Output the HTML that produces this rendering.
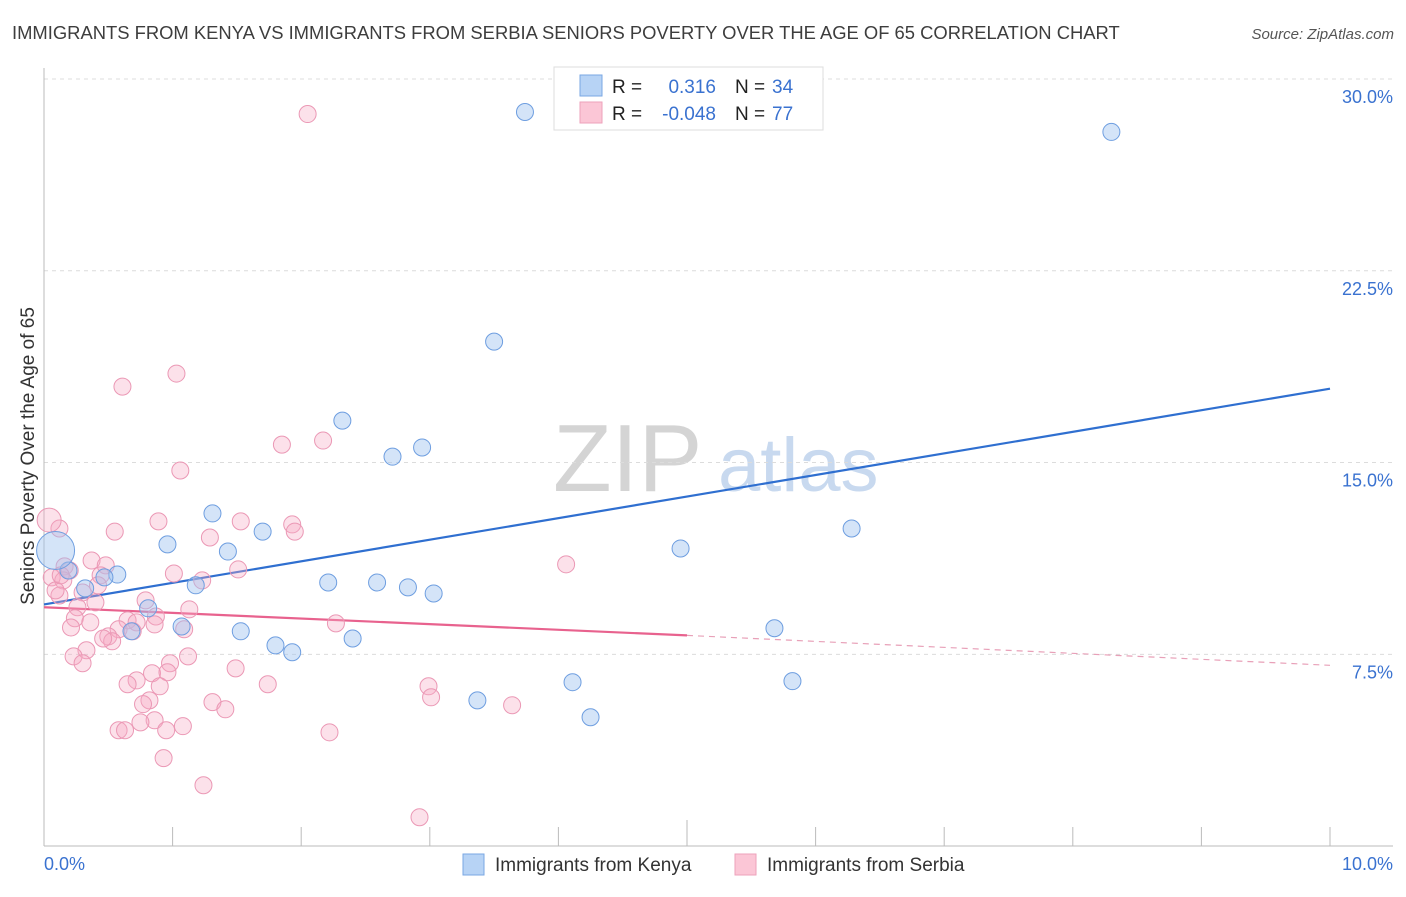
<!DOCTYPE html>
<html><head><meta charset="utf-8"><style>
body{margin:0;background:#fff;font-family:"Liberation Sans",sans-serif;}
svg text{font-family:"Liberation Sans",sans-serif;}
</style></head><body>
<svg id="chart" width="1406" height="892" xmlns="http://www.w3.org/2000/svg">
<text x="12" y="39" font-size="18.4" fill="#3d3d3d">IMMIGRANTS FROM KENYA VS IMMIGRANTS FROM SERBIA SENIORS POVERTY OVER THE AGE OF 65 CORRELATION CHART</text>
<text x="1394" y="39" font-size="15" fill="#555" font-style="italic" text-anchor="end">Source: ZipAtlas.com</text>
<g>
<text x="553" y="491" font-size="96" fill="#d4d4d4" font-family="Liberation Serif">ZIP</text>
<text x="718" y="491" font-size="76" fill="#c8d9ef">atlas</text>
</g>
<g id="grid"></g>
<g id="axes"></g>
<g id="trends"></g>
<g id="points"></g>
<text transform="translate(34,456) rotate(-90)" font-size="19" fill="#333" text-anchor="middle">Seniors Poverty Over the Age of 65</text>
<g>
<rect x="554" y="67" width="269" height="63" fill="#fff" stroke="#ddd"/>
<rect x="580" y="75" width="22" height="21" fill="#b7d3f5" stroke="#7aa7e3"/>
<rect x="580" y="102" width="22" height="21" fill="#fbc6d6" stroke="#eea2bb"/>
<text x="612" y="93" font-size="19" fill="#222">R =</text>
<text x="716" y="93" font-size="19" fill="#3a72d0" text-anchor="end">0.316</text>
<text x="735" y="93" font-size="19" fill="#222">N =</text>
<text x="772" y="93" font-size="19" fill="#3a72d0">34</text>
<text x="612" y="120" font-size="19" fill="#222">R =</text>
<text x="716" y="120" font-size="19" fill="#3a72d0" text-anchor="end">-0.048</text>
<text x="735" y="120" font-size="19" fill="#222">N =</text>
<text x="772" y="120" font-size="19" fill="#3a72d0">77</text>
</g>
<g>
<rect x="463" y="854" width="21" height="21" fill="#b7d3f5" stroke="#7aa7e3"/>
<text x="495" y="871" font-size="19" fill="#333">Immigrants from Kenya</text>
<rect x="735" y="854" width="21" height="21" fill="#fbc6d6" stroke="#eea2bb"/>
<text x="767" y="871" font-size="19" fill="#333">Immigrants from Serbia</text>
</g>
</svg>
<script>
const yTicks=[7.5,15.0,22.5,30.0];
const yTickLabels=["7.5%","15.0%","22.5%","30.0%"];
const xTickLabels=["0.0%","10.0%"];
const kenyaX=[3.74,8.30,3.50,2.32,2.71,2.94,1.31,1.70,6.28,4.95,0.96,1.43,0.19,0.57,0.47,2.21,2.59,2.83,3.03,1.18,0.32,0.81,1.07,0.68,1.53,1.80,1.93,2.40,3.37,4.11,4.25,5.68,5.82,0.09];
const kenyaY=[28.71,27.93,19.73,16.64,15.23,15.59,13.01,12.30,12.42,11.64,11.80,11.52,10.78,10.62,10.51,10.31,10.31,10.12,9.88,10.20,10.08,9.30,8.59,8.40,8.40,7.85,7.58,8.12,5.70,6.41,5.04,8.52,6.45,11.56];
const serbiaX=[2.05,0.61,1.03,1.06,1.85,2.17,0.12,0.55,0.89,1.53,1.93,1.95,1.29,4.06,0.37,0.48,0.16,0.20,0.44,0.06,0.15,1.01,1.23,1.51,0.30,0.12,0.09,0.42,0.79,0.26,1.13,0.87,0.24,0.65,0.36,0.72,0.21,0.86,1.09,2.27,0.58,0.50,0.53,0.46,0.69,0.33,0.23,0.30,1.12,0.98,0.84,0.96,1.49,0.72,0.65,0.90,1.74,2.99,3.01,0.82,0.77,1.31,1.41,0.86,0.75,1.08,0.58,0.63,0.95,2.22,3.64,0.93,1.24,2.92,0.13,0.40,0.04];
const serbiaY=[28.63,17.97,18.48,14.69,15.70,15.86,12.42,12.30,12.70,12.70,12.58,12.30,12.07,11.02,11.17,10.98,10.94,10.78,10.59,10.51,10.39,10.66,10.39,10.82,9.92,9.80,10.00,10.20,9.61,9.34,9.26,8.98,8.91,8.83,8.75,8.75,8.55,8.67,8.48,8.71,8.48,8.20,8.01,8.12,8.40,7.66,7.42,7.15,7.42,7.15,6.76,6.80,6.95,6.48,6.33,6.25,6.33,6.25,5.82,5.70,5.55,5.63,5.35,4.92,4.84,4.69,4.53,4.53,4.53,4.45,5.51,3.44,2.38,1.13,10.59,9.53,12.75];
const kenyaTrend=[9.45,17.89];
const serbiaTrend=[9.34,8.24,7.07];
const NS='http://www.w3.org/2000/svg';
const X=v=>44+v*128.6, Y=v=>79+(30-v)*25.57;
function mk(p,t,a){const e=document.createElementNS(NS,t);for(const k in a)e.setAttribute(k,a[k]);p.appendChild(e);return e;}
const grid=document.getElementById('grid'),axes=document.getElementById('axes'),tr=document.getElementById('trends'),pts=document.getElementById('points');
yTicks.forEach((t,i)=>{
 const l=mk(grid,'line',{x1:44,x2:1393,y1:Y(t),y2:Y(t),stroke:'#dcdcdc','stroke-dasharray':'4,4'});
 
 
 const tx=mk(axes,'text',{x:1393,y:Y(t)+24,'font-size':18,fill:'#3a72d0','text-anchor':'end'});tx.textContent=yTickLabels[i];
 
 
});
const al=mk(axes,'line',{x1:44,x2:44,y1:68,y2:846,stroke:'#bbb'});


const bl=mk(axes,'line',{x1:44,x2:1393,y1:846,y2:846,stroke:'#bbb'});


for(let i=1;i<=10;i++){const tk=mk(axes,'line',{x1:X(i),x2:X(i),y1:i==5?820:827,y2:846,stroke:'#bbb'});
 
 }
[[0,'start',44],[10,'end',1393]].forEach((d,i)=>{const t=mk(axes,'text',{x:d[2],y:870,'font-size':18,fill:'#3a72d0','text-anchor':d[1]});t.textContent=xTickLabels[i];
 
 });
const kl=mk(tr,'line',{x1:X(0),y1:Y(kenyaTrend[0]),x2:X(10),y2:Y(kenyaTrend[1]),stroke:'#2f6fd0','stroke-width':2.2});


const sl=mk(tr,'line',{x1:X(0),y1:Y(serbiaTrend[0]),x2:X(5),y2:Y(serbiaTrend[1]),stroke:'#e8628e','stroke-width':2.2});


const sd=mk(tr,'line',{x1:X(5),y1:Y(serbiaTrend[1]),x2:X(10),y2:Y(serbiaTrend[2]),stroke:'#e8a0b8','stroke-width':1.2,'stroke-dasharray':'6,5'});


serbiaX.forEach((x,i)=>{const c=mk(pts,'circle',{cx:X(x),cy:Y(serbiaY[i]),r:i==serbiaX.length-1?12:8.5,fill:'rgba(246,170,196,0.35)',stroke:'#eb98b5','stroke-width':1});
 
 });
kenyaX.forEach((x,i)=>{const c=mk(pts,'circle',{cx:X(x),cy:Y(kenyaY[i]),r:i==kenyaX.length-1?19:8.5,fill:'rgba(160,195,240,0.45)',stroke:'#6e9ee0','stroke-width':1});
 
 });
</script>
</body></html>
